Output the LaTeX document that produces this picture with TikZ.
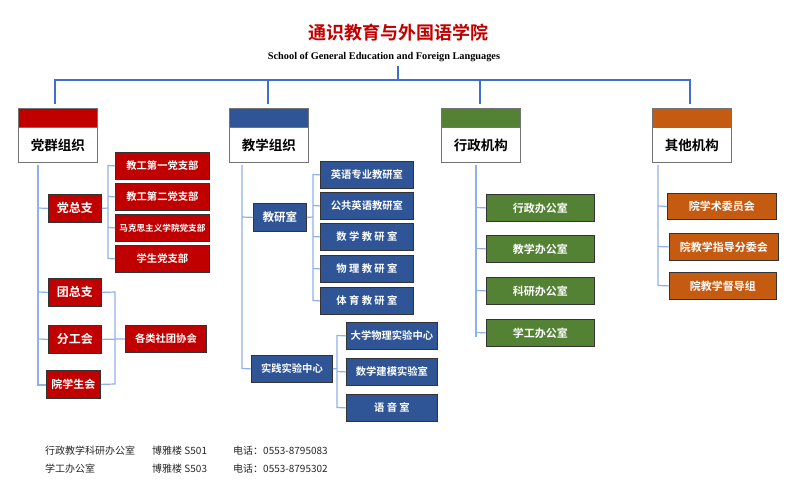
\documentclass[tikz,border=0pt]{standalone}
\usepackage{fontspec}
\setmainfont{Liberation Serif}
\newfontfamily\cjk{Noto Sans CJK SC}
\newfontfamily\cjkb{Noto Sans CJK SC Bold}
\definecolor{cR}{HTML}{C00000}
\definecolor{cB}{HTML}{2F5597}
\definecolor{cG}{HTML}{548235}
\definecolor{cO}{HTML}{C55A11}
\definecolor{cL}{HTML}{8FB0E8}
\definecolor{cBus}{HTML}{3F6FCF}
\begin{document}
\begin{tikzpicture}[x=1pt,y=-1pt,
  ln/.style={draw=cL, line width=1.2pt},
  bus/.style={draw=cBus, line width=1.8pt},
  bx/.style={draw=black!80, line width=0.8pt, text=white, font=\cjkb\fontsize{10.3}{12}\selectfont, inner sep=0pt, anchor=north west},
  R/.style={bx, fill=cR},
  B/.style={bx, fill=cB},
  G/.style={bx, fill=cG},
  O/.style={bx, fill=cO},
  hd/.style={draw=black!55, line width=0.8pt, fill=white, font=\cjkb\fontsize{13.5}{15}\selectfont, inner sep=0pt, anchor=north west, minimum width=79pt, minimum height=35pt},
  hcap/.style={draw=black!55, line width=0.8pt, inner sep=0pt, anchor=north west, minimum width=79pt, minimum height=19pt}
]
\useasboundingbox (0,0) rectangle (800,499);
\node[text=cR, font=\cjkb\fontsize{18}{21}\selectfont] (title) at (398,33) {通识教育与外国语学院};
\node[font=\bfseries\fontsize{10.3}{12}\selectfont] (sub) at (384,57) {School of General Education and Foreign Languages};
% bus
\coordinate (c0) at (398,66);
\coordinate (c1) at (398,80);
\coordinate (b1) at (55,80); \coordinate (b2) at (268,80); \coordinate (b3) at (480,80); \coordinate (b4) at (690,80);
\draw[bus] (c0) -- (c1);
\draw[bus] (55,104) -- (b1) -- (b4) -- (690,104);
\draw[bus] (b2) -- (268,104);
\draw[bus] (b3) -- (480,104);
% headers
\node[hcap, fill=cR] (h1c) at (18,108) {};
\node[hd] (h1) at (18,127) {党群组织};
\node[hcap, fill=cB] (h2c) at (229,108) {};
\node[hd] (h2) at (229,127) {教学组织};
\node[hcap, fill=cG] (h3c) at (441,108) {};
\node[hd] (h3) at (441,127) {行政机构};
\node[hcap, fill=cO] (h4c) at (652,108) {};
\node[hd] (h4) at (652,127) {其他机构};
% left column
\draw[ln] (38,165) -- (38,385) -- (46,385);
\node[R, minimum width=53pt, minimum height=28pt, font=\cjkb\fontsize{12}{14}\selectfont] (dz) at (48,194) {党总支};
\node[R, minimum width=53pt, minimum height=28pt, font=\cjkb\fontsize{12}{14}\selectfont] (tz) at (48,278) {团总支};
\node[R, minimum width=53pt, minimum height=28pt, font=\cjkb\fontsize{12}{14}\selectfont] (fg) at (48,325) {分工会};
\node[R, minimum width=54pt, minimum height=28pt, font=\cjkb\fontsize{11}{13}\selectfont] (xs) at (46,370) {院学生会};
\draw[ln] (38,208) -- (dz.west); \draw[ln] (38,292) -- (tz.west); \draw[ln] (38,339) -- (fg.west);
\node[R, minimum width=94pt, minimum height=27pt] (p1) at (115,152) {教工第一党支部};
\node[R, minimum width=94pt, minimum height=27pt] (p2) at (115,183) {教工第二党支部};
\node[R, minimum width=94pt, minimum height=27pt, font=\cjkb\fontsize{8.6}{10}\selectfont] (p3) at (115,214) {马克思主义学院党支部};
\node[R, minimum width=94pt, minimum height=27pt] (p4) at (115,245) {学生党支部};
\draw[ln] (dz.east) -- (108,208);
\draw[ln] (p1.west) -- (108,165.5) -- (108,258.5) -- (p4.west);
\draw[ln] (108,196.5) -- (p2.west); \draw[ln] (108,227.5) -- (p3.west);
\node[R, minimum width=81pt, minimum height=27pt] (st) at (125,325) {各类社团协会};
\draw[ln] (tz.east) -- (115,292) -- (115,384) -- (xs.east);
\draw[ln] (fg.east) -- (st.west);
% middle
\node[B, minimum width=53pt, minimum height=28pt, font=\cjkb\fontsize{11.5}{13}\selectfont] (jy) at (253,203) {教研室};
\node[B, minimum width=81pt, minimum height=27pt] (sj) at (251,355) {实践实验中心};
\draw[ln] (242,165) -- (242,368.5) -- (sj.west);
\draw[ln] (242,217) -- (jy.west);
\node[B, minimum width=93pt, minimum height=27pt] (m1) at (320,161) {英语专业教研室};
\node[B, minimum width=93pt, minimum height=27pt] (m2) at (320,192) {公共英语教研室};
\node[B, minimum width=93pt, minimum height=27pt] (m3) at (320,223) {数\ 学\ 教\ 研\ 室};
\node[B, minimum width=93pt, minimum height=27pt] (m4) at (320,255) {物\ 理\ 教\ 研\ 室};
\node[B, minimum width=93pt, minimum height=27pt] (m5) at (320,287) {体\ 育\ 教\ 研\ 室};
\draw[ln] (jy.east) -- (313,217);
\draw[ln] (m1.west) -- (313,174.5) -- (313,300.5) -- (m5.west);
\draw[ln] (313,205.5) -- (m2.west); \draw[ln] (313,236.5) -- (m3.west); \draw[ln] (313,268.5) -- (m4.west);
\node[B, minimum width=91pt, minimum height=27pt] (e1) at (346,322) {大学物理实验中心};
\node[B, minimum width=91pt, minimum height=27pt] (e2) at (346,358) {数学建模实验室};
\node[B, minimum width=91pt, minimum height=27pt] (e3) at (346,394) {语\ 音\ 室};
\draw[ln] (sj.east) -- (337,368.5);
\draw[ln] (e1.west) -- (337,335.5) -- (337,407.5) -- (e3.west);
\draw[ln] (337,371.5) -- (e2.west);
% admin
\node[G, minimum width=108pt, minimum height=27pt, font=\cjkb\fontsize{11}{13}\selectfont] (a1) at (486,194) {行政办公室};
\node[G, minimum width=108pt, minimum height=27pt, font=\cjkb\fontsize{11}{13}\selectfont] (a2) at (486,235) {教学办公室};
\node[G, minimum width=108pt, minimum height=27pt, font=\cjkb\fontsize{11}{13}\selectfont] (a3) at (486,277) {科研办公室};
\node[G, minimum width=108pt, minimum height=27pt, font=\cjkb\fontsize{11}{13}\selectfont] (a4) at (486,319) {学工办公室};
\draw[ln] (476,165) -- (476,337);
\draw[ln] (476,207.5) -- (a1.west); \draw[ln] (476,248.5) -- (a2.west); \draw[ln] (476,290.5) -- (a3.west); \draw[ln] (476,332.5) -- (a4.west);
% other
\node[O, minimum width=109pt, minimum height=26pt, font=\cjkb\fontsize{11}{13}\selectfont] (o1) at (667,193) {院学术委员会};
\node[O, minimum width=109pt, minimum height=27pt, font=\cjkb\fontsize{11}{13}\selectfont] (o2) at (669,233) {院教学指导分委会};
\node[O, minimum width=107pt, minimum height=27pt, font=\cjkb\fontsize{11}{13}\selectfont] (o3) at (669,272) {院教学督导组};
\draw[ln] (658,165) -- (658,285.5) -- (o3.west);
\draw[ln] (658,206) -- (o1.west); \draw[ln] (658,246.5) -- (o2.west);
% footer
\begin{scope}[every node/.style={anchor=west, font=\cjk\fontsize{10}{12}\selectfont, text=black!85, inner sep=0pt}]
\node (f1) at (45,451) {行政教学科研办公室};
\node (f2) at (152,451) {博雅楼 S501};
\node (f3) at (233,451) {电话：0553-8795083};
\node (f4) at (45,469) {学工办公室};
\node (f5) at (152,469) {博雅楼 S503};
\node (f6) at (233,469) {电话：0553-8795302};
\end{scope}
\end{tikzpicture}
\end{document}
